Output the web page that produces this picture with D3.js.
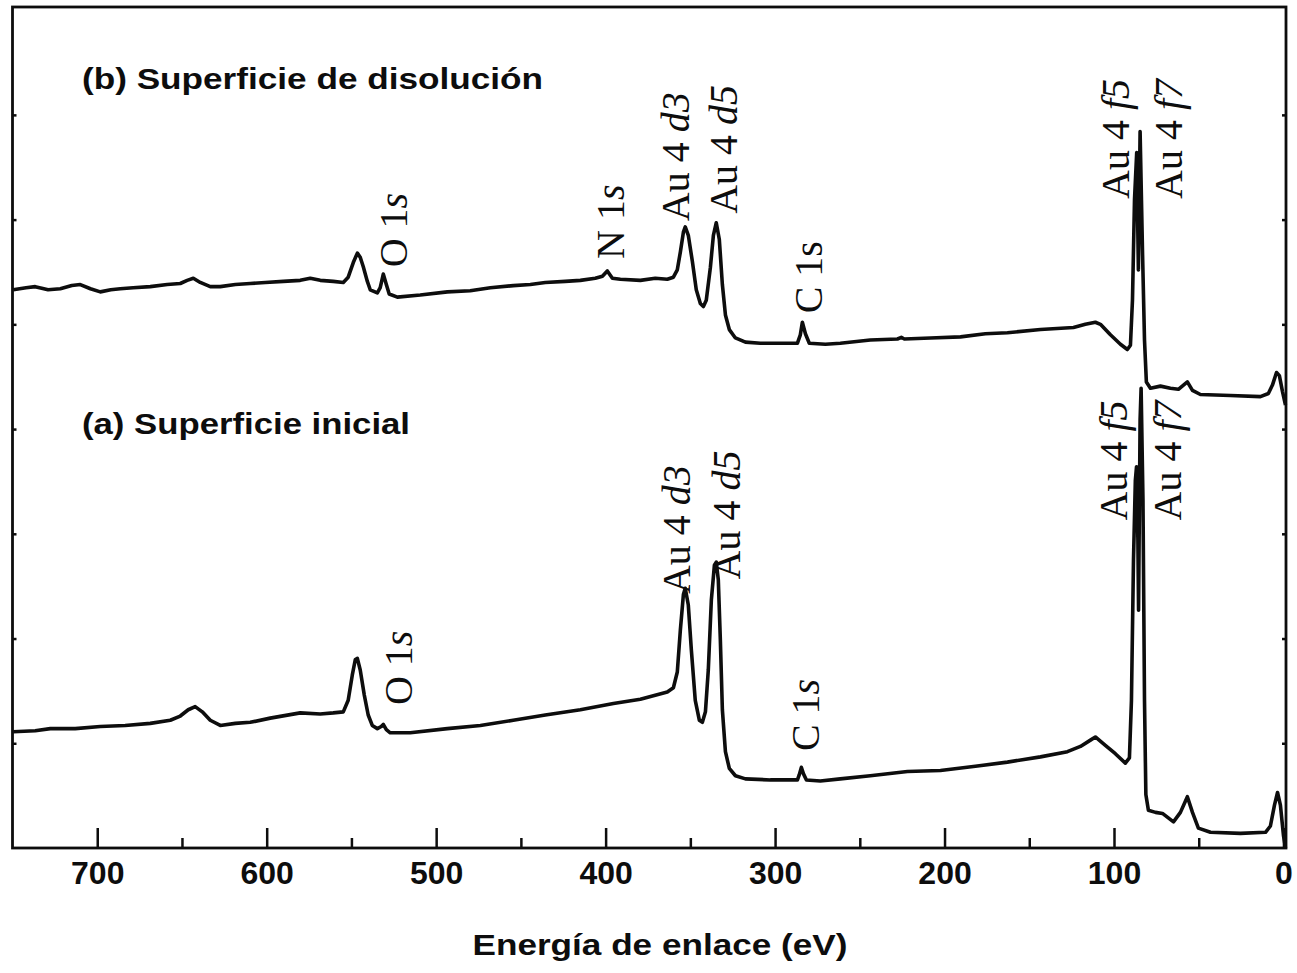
<!DOCTYPE html>
<html><head><meta charset="utf-8">
<script src="https://cdn.jsdelivr.net/npm/d3@7"></script>
<style>body{margin:0;background:#fff}svg{display:block}</style>
</head><body><svg id="c" width="1297" height="973"></svg>
<script>
// ---- data (binding energy eV, intensity a.u.) ----
const energyTicksMajor = [700, 600, 500, 400, 300, 200, 100, 0];
const energyTicksMinor = [650, 550, 450, 350, 250, 150, 50];
const intensityTicks = [1, 2, 3, 4, 5, 6, 7];

const spectrumB = [
 [749.6,5.33],[742.0,5.35],[736.6,5.36],[729.0,5.33],[721.8,5.34],[715.0,5.37],[710.0,5.38],[704.0,5.34],[698.2,5.31],[692.0,5.33],[686.4,5.34],[678.8,5.35],[668.7,5.36],
 [658.7,5.38],[651.0,5.39],[646.9,5.42],[643.3,5.44],[639.2,5.40],[633.3,5.36],[627.4,5.36],[618.5,5.38],
 [609.7,5.39],[600.8,5.40],[590.2,5.41],[580.2,5.42],[574.3,5.44],[568.4,5.42],[560.7,5.41],[554.8,5.40],
 [551.9,5.45],[548.9,5.59],[546.5,5.68],[544.8,5.64],[543.0,5.55],[540.6,5.41],[538.9,5.33],[534.7,5.30],
 [533.0,5.35],[531.2,5.48],[529.4,5.38],[527.7,5.29],[522.9,5.26],[509.4,5.28],[493.4,5.31],[479.9,5.32],
 [468.0,5.35],[454.5,5.37],[444.4,5.38],[435.6,5.40],[423.8,5.41],[414.9,5.42],[406.1,5.44],[401.9,5.46],
 [399.0,5.51],[396.0,5.44],[391.3,5.43],[379.5,5.42],[370.7,5.44],[363.6,5.43],[360.0,5.45],[357.7,5.52],
 [355.9,5.69],[354.1,5.88],[353.0,5.93],[351.2,5.85],[348.8,5.60],[346.5,5.33],[344.1,5.20],[342.3,5.17],
 [340.6,5.23],[338.2,5.54],[336.4,5.85],[334.7,5.97],[332.9,5.81],[331.1,5.38],[329.3,5.09],[327.0,4.95],
 [323.4,4.87],[317.5,4.83],[308.7,4.82],[296.9,4.82],[286.8,4.82],[285.1,4.90],[283.9,5.02],[282.1,4.91],
 [279.8,4.82],[270.3,4.81],[261.5,4.82],[243.8,4.85],[227.8,4.86],[225.5,4.875],[223.7,4.86],[208.3,4.87],
 [190.6,4.88],[175.9,4.91],[162.9,4.92],[143.4,4.95],[123.9,4.97],[116.9,5.00],[111.0,5.02],[108.0,5.00],
 [102.1,4.90],[96.2,4.81],[92.1,4.76],[90.3,4.80],[89.1,5.23],[87.9,6.19],[86.6,6.64],[85.6,5.52],
 [84.6,6.84],[83.2,5.71],[82.0,4.85],[80.9,4.45],[78.5,4.39],[72.6,4.41],[66.7,4.39],[62.0,4.38],
 [59.0,4.42],[56.7,4.45],[53.7,4.37],[49.0,4.33],[31.3,4.32],[13.6,4.31],[8.9,4.34],[6.5,4.42],
 [4.1,4.54],[2.4,4.51],[0.6,4.36],[-1.2,4.23]
];

const spectrumA = [
 [749.6,1.11],[736.6,1.12],[727.7,1.14],[713.0,1.14],[698.2,1.16],[683.5,1.17],[668.7,1.19],[656.9,1.22],
 [651.0,1.26],[646.3,1.32],[642.2,1.35],[638.0,1.30],[633.3,1.22],[627.4,1.17],[618.5,1.19],[609.7,1.20],
 [597.9,1.24],[580.2,1.29],[568.4,1.28],[560.7,1.29],[554.8,1.30],[551.9,1.41],[549.5,1.65],[547.7,1.80],
 [546.5,1.81],[544.8,1.70],[542.4,1.46],[540.1,1.27],[537.7,1.17],[534.7,1.14],[532.4,1.16],[531.2,1.18],
 [529.4,1.13],[527.1,1.10],[515.3,1.10],[493.4,1.14],[473.9,1.17],[454.5,1.22],[435.6,1.27],[414.9,1.32],
 [395.4,1.38],[379.5,1.42],[363.6,1.49],[360.0,1.53],[357.7,1.68],[355.9,2.08],[354.1,2.42],[353.0,2.48],
 [351.2,2.32],[349.4,1.89],[347.1,1.41],[344.7,1.22],[342.9,1.20],[341.1,1.30],[339.4,1.70],[337.6,2.37],
 [335.8,2.70],[334.7,2.73],[333.5,2.56],[332.3,1.99],[331.1,1.32],[329.3,0.92],[327.0,0.76],[323.4,0.69],
 [317.5,0.66],[302.8,0.65],[286.8,0.65],[285.7,0.70],[284.5,0.77],[283.3,0.71],[281.5,0.65],[273.3,0.64],
 [261.5,0.66],[243.8,0.69],[221.9,0.73],[202.4,0.74],[181.8,0.78],[162.9,0.82],[143.4,0.87],[127.5,0.92],
 [119.8,0.97],[113.9,1.03],[111.0,1.06],[105.1,0.98],[99.2,0.90],[93.3,0.81],[90.9,0.86],[89.7,1.41],
 [88.5,2.75],[87.4,3.51],[86.7,3.64],[85.9,2.94],[85.5,2.27],[84.6,4.09],[84.0,4.39],[82.9,3.32],
 [82.0,1.41],[81.2,0.51],[79.7,0.36],[75.5,0.34],[71.4,0.33],[64.9,0.25],[60.8,0.34],[56.7,0.49],
 [53.7,0.34],[50.2,0.19],[43.1,0.15],[25.4,0.14],[10.6,0.15],[7.7,0.21],[5.3,0.41],[3.5,0.53],
 [1.8,0.41],[0.0,0.12],[-1.2,0.0]
];

// peak annotations: text parts (italic flag), anchor energy and intensity of label centre
const labelsB = [
 {parts:[["O 1",0],["s",1]], e:525.3, v:5.90},
 {parts:[["N 1",0],["s",1]], e:397.2, v:5.98},
 {parts:[["Au 4 ",0],["d3",1]], e:358.9, v:6.60},
 {parts:[["Au 4 ",0],["d5",1]], e:330.5, v:6.67},
 {parts:[["C 1s",0]], e:280.4, v:5.45},
 {parts:[["Au 4 ",0],["f5",1]], e:99.2, v:6.77},
 {parts:[["Au 4 ",0],["f7",1]], e:67.9, v:6.77}
];
const labelsA = [
 {parts:[["O 1",0],["s",1]], e:522.3, v:1.72},
 {parts:[["Au 4 ",0],["d3",1]], e:358.3, v:3.04},
 {parts:[["Au 4 ",0],["d5",1]], e:328.8, v:3.18},
 {parts:[["C 1",0],["s",1]], e:282.1, v:1.27},
 {parts:[["Au 4 ",0],["f5",1]], e:100.3, v:3.70},
 {parts:[["Au 4 ",0],["f7",1]], e:68.5, v:3.70}
];
const panelTitles = ["(b) Superficie de disolución", "(a) Superficie inicial"];
const xTitle = "Energía de enlace (eV)";

// ---- drawing ----
const svg = d3.select('#c');
const L = 12.5, R = 1286, T = 7, B = 848;
const x = d3.scaleLinear().domain([750, -1.5]).range([L, R]);
const y = d3.scaleLinear().domain([0, 8.03]).range([B, T]);
const ink = '#0d0d0d';

// bottom axis major ticks + labels
const gx = svg.append('g').attr('transform', `translate(0,${B})`)
  .call(d3.axisBottom(x).tickValues(energyTicksMajor).tickSize(-20).tickPadding(13).tickFormat(d3.format('d')));
gx.select('.domain').remove();
gx.selectAll('line').attr('stroke', ink).attr('stroke-width', 2.5);
gx.selectAll('text').attr('font-family', '"Liberation Sans", Arial, sans-serif')
  .attr('font-weight', 'bold').attr('font-size', 32).attr('fill', ink);
// minor ticks
const gxm = svg.append('g').attr('transform', `translate(0,${B})`)
  .call(d3.axisBottom(x).tickValues(energyTicksMinor).tickSize(-10).tickFormat(''));
gxm.select('.domain').remove();
gxm.selectAll('line').attr('stroke', ink).attr('stroke-width', 2.5);

// left/right small inward ticks
const gl = svg.append('g').attr('transform', `translate(${L},0)`)
  .call(d3.axisLeft(y).tickValues(intensityTicks).tickSize(-4).tickFormat(''));
gl.select('.domain').remove();
gl.selectAll('line').attr('stroke', ink).attr('stroke-width', 2.5);
const gr = svg.append('g').attr('transform', `translate(${R},0)`)
  .call(d3.axisRight(y).tickValues(intensityTicks).tickSize(-4).tickFormat(''));
gr.select('.domain').remove();
gr.selectAll('line').attr('stroke', ink).attr('stroke-width', 2.5);

// frame
svg.append('rect').attr('x', L).attr('y', T).attr('width', R - L).attr('height', B - T)
  .attr('fill', 'none').attr('stroke', ink).attr('stroke-width', 2.8);

// spectra
const line = d3.line().x(d => x(d[0])).y(d => y(d[1]));
[spectrumB, spectrumA].forEach(s => {
  svg.append('path').datum(s).attr('d', line).attr('fill', 'none')
    .attr('stroke', ink).attr('stroke-width', 3.6).attr('stroke-linejoin', 'round');
});

// peak labels
function drawLabels(arr) {
  arr.forEach(l => {
    const t = svg.append('text')
      .attr('transform', `translate(${x(l.e)},${y(l.v)}) rotate(-90)`)
      .attr('text-anchor', 'middle').attr('dominant-baseline', 'central')
      .attr('font-family', '"Liberation Serif", "Times New Roman", serif')
      .attr('font-size', 40).attr('fill', ink);
    l.parts.forEach(p => t.append('tspan').text(p[0]).attr('font-style', p[1] ? 'italic' : 'normal'));
  });
}
drawLabels(labelsB);
drawLabels(labelsA);

// panel titles
svg.append('text').attr('x', 82).attr('y', 89).text(panelTitles[0])
  .attr('font-family', '"Liberation Sans", Arial, sans-serif').attr('font-weight', 'bold')
  .attr('font-size', 30).attr('fill', ink).attr('textLength', 461).attr('lengthAdjust', 'spacingAndGlyphs');
svg.append('text').attr('x', 82).attr('y', 434).text(panelTitles[1])
  .attr('font-family', '"Liberation Sans", Arial, sans-serif').attr('font-weight', 'bold')
  .attr('font-size', 30).attr('fill', ink).attr('textLength', 328).attr('lengthAdjust', 'spacingAndGlyphs');

// x-axis title
svg.append('text').attr('x', 660).attr('y', 955).attr('text-anchor', 'middle').text(xTitle)
  .attr('font-family', '"Liberation Sans", Arial, sans-serif').attr('font-weight', 'bold')
  .attr('font-size', 30).attr('fill', ink).attr('textLength', 375).attr('lengthAdjust', 'spacingAndGlyphs');
</script></body></html>
